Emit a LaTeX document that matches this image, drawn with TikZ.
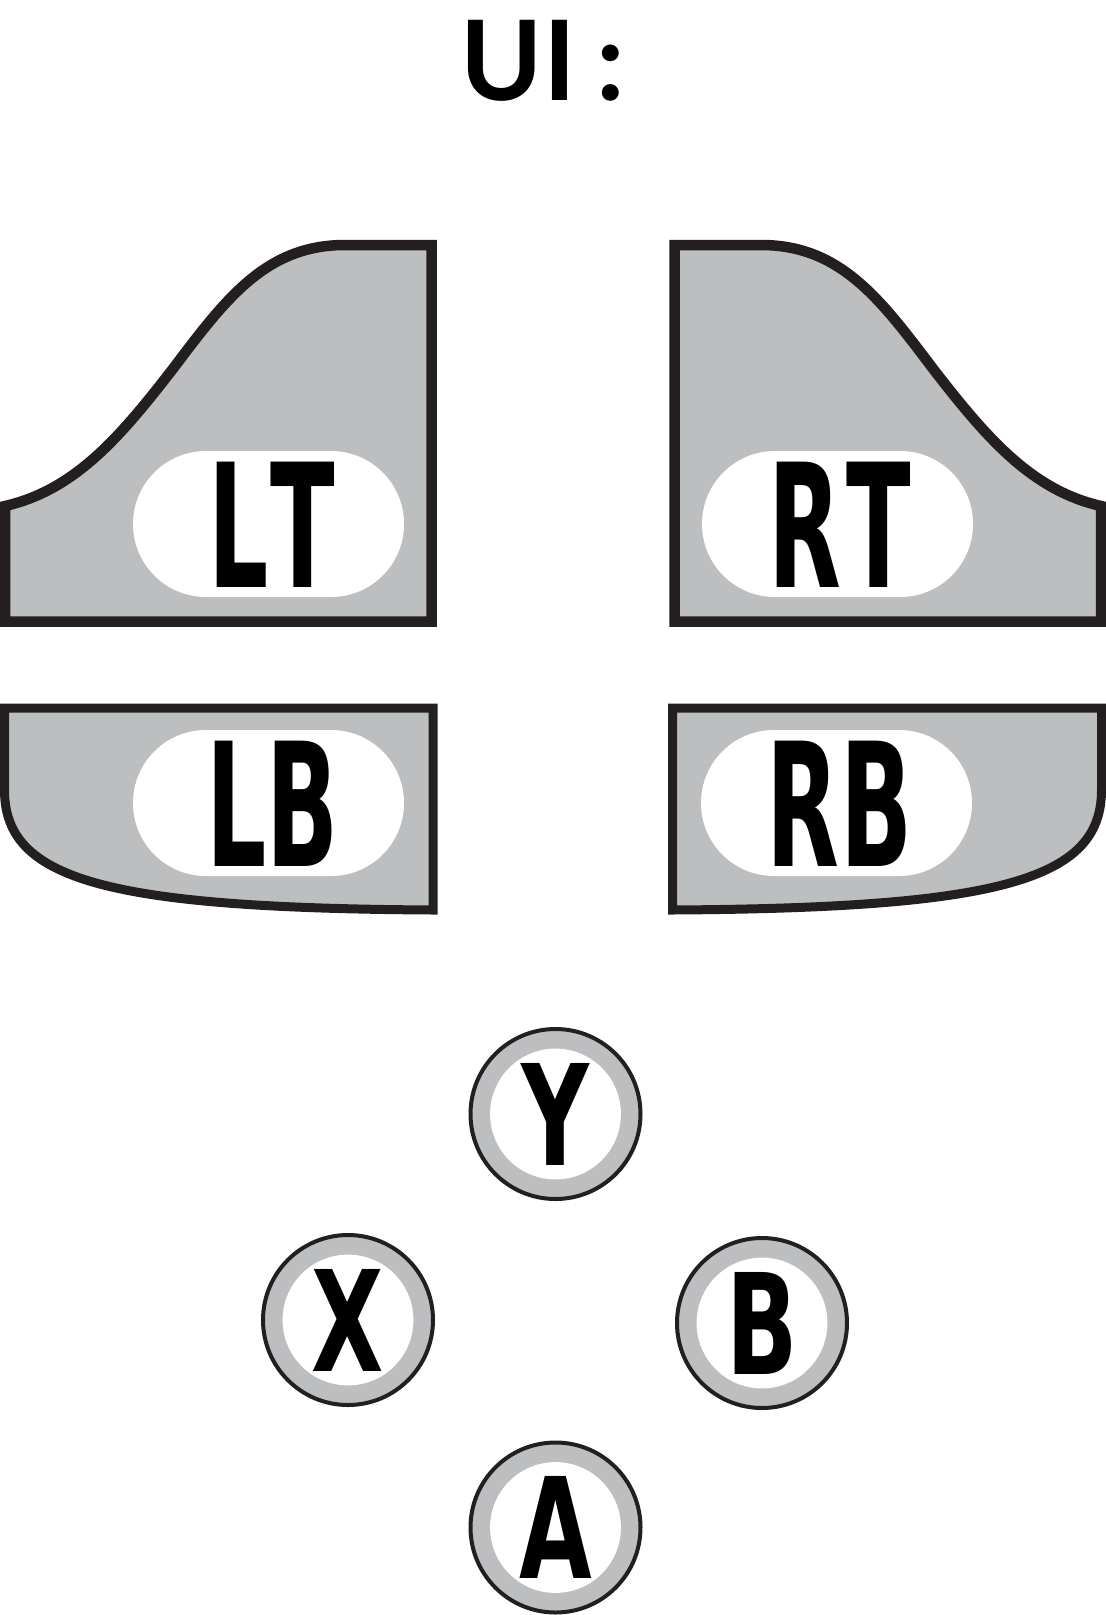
\documentclass[tikz,border=0pt]{standalone}
\usepackage{fontspec}
\usetikzlibrary{shapes.misc}
\newfontfamily\padfont{DejaVu Sans}[FakeStretch=0.55]
\newfontfamily\btnfont{DejaVu Sans}[FakeStretch=0.67]
\setmainfont{Lato}
\definecolor{padline}{HTML}{231F20}
\definecolor{padgray}{HTML}{BCBEC0}
\tikzset{
  panel/.style={draw=padline,fill=padgray,line width=9pt,miter limit=10},
  pill/.style={rounded rectangle,fill=white,minimum width=271pt,minimum height=146pt,inner sep=0pt},
  padbig/.style={inner sep=0pt,font=\padfont\bfseries\fontsize{172}{172}\selectfont},
  padsmall/.style={inner sep=0pt,font=\btnfont\bfseries\fontsize{140}{140}\selectfont},
  ring/.style={circle,draw=padline,fill=padgray,line width=4pt,minimum size=170pt,inner sep=0pt},
  disc/.style={circle,fill=white,minimum size=130.8pt,inner sep=0pt},
}
\begin{document}
\begin{tikzpicture}[x=1pt,y=-1pt]
\useasboundingbox (0,0) rectangle (1106,1615);
\node[font=\bfseries\fontsize{111}{111}\selectfont] (title) at (543,61) {UI\hspace{-6pt} :};
% triggers
\draw[panel,line width=10.5pt] (5,621.5) -- (5,506) .. controls (75,490) and (120,437) .. (172,370)
  .. controls (225,300) and (265,245) .. (345,245) -- (431.5,245) -- (431.5,621.5) -- cycle;
\draw[panel,line width=10.5pt] (1101,621.5) -- (1101,506) .. controls (1031,490) and (986,437) .. (934,370)
  .. controls (881,300) and (841,245) .. (761,245) -- (674.5,245) -- (674.5,621.5) -- cycle;
% bumpers
\draw[panel] (433,708) -- (433,910) .. controls (106,908) and (4.5,880) .. (4.5,790) -- (4.5,708) -- cycle;
\draw[panel] (672.5,708) -- (672.5,910) .. controls (1000,908) and (1101.5,880) .. (1101.5,790) -- (1101.5,708) -- cycle;
% labels
\node[pill] (ltpill) at (268.5,524) {};
\node[pill] (rtpill) at (837.5,524) {};
\node[pill] (lbpill) at (268.5,803) {};
\node[pill] (rbpill) at (836.5,803) {};
\node[padbig] (lt) at (271.5,525) {L\kern2pt T};
\node[padbig] (rt) at (840,525) {R\kern5pt T};
\node[padbig] (lb) at (272.5,804) {LB};
\node[padbig] (rb) at (839.5,804) {R\kern2pt B};
% buttons
\node[ring] (yring) at (555.5,1114) {};
\node[ring] (xring) at (348,1320) {};
\node[ring] (bring) at (762,1323) {};
\node[ring] (aring) at (555.5,1527.5) {};
\node[disc,padsmall] (y) at (yring) {Y};
\node[disc,padsmall] (x) at (xring) {X};
\node[disc,padsmall] (b) at (bring) {B};
\node[disc,padsmall] (a) at (aring) {A};
\end{tikzpicture}
\end{document}
